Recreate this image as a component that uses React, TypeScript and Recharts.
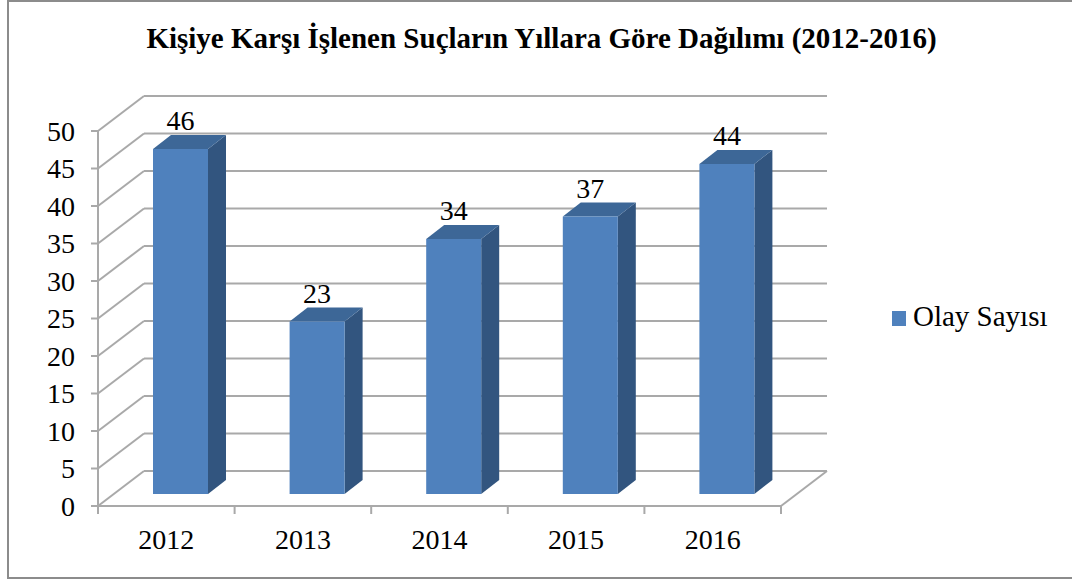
import { Bar, BarChart, CartesianGrid, LabelList, XAxis, YAxis } from "recharts";

const years = ["2012", "2013", "2014", "2015", "2016"];
const olaySayisi = [46, 23, 34, 37, 44];
const yTicks = [0, 5, 10, 15, 20, 25, 30, 35, 40, 45, 50];

const data = years.map((year, i) => ({ year, olay: olaySayisi[i] }));

const FONT = '"Liberation Serif", "Times New Roman", serif';
const GRID = "#a9a9a9";

// perspective offsets of the walls and the bars
const WALL_DX = 46;
const WALL_DY = 35;
const BAR_DX = 18;
const BAR_DY = 14;
const BAR_SHIFT_X = 14;
const BAR_SHIFT_Y = 12;
const PLOT_BOTTOM = 506;

function gridLine(props: any) {
  const { x1, y1, x2, index } = props;
  const bx = x1 + WALL_DX;
  const by = y1 - WALL_DY;
  const isFloor = Math.abs(y1 - PLOT_BOTTOM) < 1;
  return (
    <g key={`g-${index}-${y1}`}>
      <line x1={x1} y1={y1} x2={bx} y2={by} stroke={GRID} strokeWidth={2} />
      <line x1={bx} y1={by} x2={x2 + WALL_DX} y2={by} stroke={GRID} strokeWidth={2} />
      {isFloor && (
        <line x1={x2} y1={y1} x2={x2 + WALL_DX} y2={by} stroke={GRID} strokeWidth={2} />
      )}
    </g>
  );
}

function Bar3D(props: any) {
  const { x, y, width, height } = props;
  if (height == null || height <= 0) return null;
  const fx = x + BAR_SHIFT_X;
  const fy = y - BAR_SHIFT_Y;
  const top = `${fx},${fy} ${fx + BAR_DX},${fy - BAR_DY} ${fx + width + BAR_DX},${fy - BAR_DY} ${fx + width},${fy}`;
  const side = `${fx + width},${fy} ${fx + width + BAR_DX},${fy - BAR_DY} ${fx + width + BAR_DX},${fy + height - BAR_DY} ${fx + width},${fy + height}`;
  return (
    <g>
      <polygon points={side} fill="#32557f" />
      <polygon points={top} fill="#3d6797" />
      <rect x={fx} y={fy} width={width} height={height} fill="#4f81bd" />
    </g>
  );
}

function BarValue(props: any) {
  const { x, y, width, value } = props;
  return (
    <text
      x={x + BAR_SHIFT_X + width / 2}
      y={y - BAR_SHIFT_Y - BAR_DY - 5}
      textAnchor="middle"
      fontSize={28}
      fontFamily={FONT}
      fill="#000"
    >
      {value}
    </text>
  );
}

function YearTick(props: any) {
  const { x, y, payload, index } = props;
  const half = payload?.offset || 68.3;
  const axisY = y - 23;
  return (
    <g>
      <line x1={x - half} y1={axisY} x2={x - half} y2={axisY + 8} stroke={GRID} strokeWidth={2} />
      {index === years.length - 1 && (
        <line x1={x + half} y1={axisY} x2={x + half} y2={axisY + 8} stroke={GRID} strokeWidth={2} />
      )}
      <text x={x} y={y} dy="0.71em" textAnchor="middle" fontSize={28} fontFamily={FONT} fill="#000">
        {payload.value}
      </text>
    </g>
  );
}

export default function App() {
  return (
    <div style={{ position: "absolute", left: 0, top: 0, width: 1072, height: 579, background: "#fff", overflow: "hidden" }}>
      <div
        style={{
          position: "absolute",
          left: 7,
          top: 0,
          width: 1100,
          height: 575,
          border: "2px solid #8c8c8c",
        }}
      />
      <div
        style={{
          position: "absolute",
          left: 0,
          width: 1083,
          top: 24,
          textAlign: "center",
          fontFamily: FONT,
          fontWeight: "bold",
          fontSize: 29,
          lineHeight: "29px",
          color: "#000",
          whiteSpace: "nowrap",
        }}
      >
        Kişiye Karşı İşlenen Suçların Yıllara Göre Dağılımı (2012-2016)
      </div>
      <div style={{ position: "absolute", left: 0, top: 0 }}>
        <BarChart
          width={1072}
          height={579}
          data={data}
          margin={{ top: 131, right: 291, bottom: 43, left: 38 }}
          barSize={55}
        >
          <CartesianGrid vertical={false} horizontal={gridLine} />
          <YAxis
            domain={[0, 50]}
            ticks={yTicks}
            width={60}
            tickSize={7}
            tickMargin={16}
            axisLine={{ stroke: GRID, strokeWidth: 2 }}
            tickLine={{ stroke: GRID, strokeWidth: 2 }}
            tick={{ fontSize: 28, fontFamily: FONT, fill: "#000" }}
            interval={0}
          />
          <XAxis
            dataKey="year"
            height={30}
            tickSize={7}
            tickMargin={16}
            axisLine={{ stroke: GRID, strokeWidth: 2 }}
            tickLine={false}
            tick={<YearTick />}
            interval={0}
          />
          <Bar dataKey="olay" shape={<Bar3D />} isAnimationActive={false}>
            <LabelList dataKey="olay" content={<BarValue />} />
          </Bar>
        </BarChart>
      </div>
      <div style={{ position: "absolute", left: 892, top: 311, width: 14, height: 15, background: "#4f81bd" }} />
      <div
        style={{
          position: "absolute",
          left: 913,
          top: 302,
          fontFamily: FONT,
          fontSize: 29,
          lineHeight: "29px",
          color: "#000",
          whiteSpace: "nowrap",
        }}
      >
        Olay Sayısı
      </div>
    </div>
  );
}
